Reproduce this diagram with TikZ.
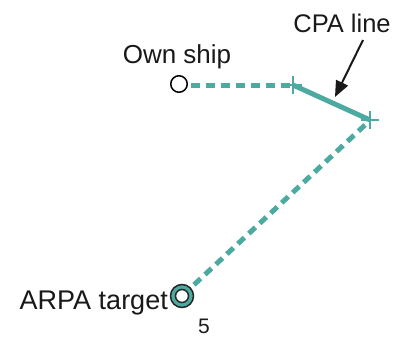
\documentclass[tikz,border=0pt]{standalone}
\usepackage{fontspec}
\setmainfont{Liberation Sans}
\usetikzlibrary{arrows.meta,calc}
\definecolor{teal1}{RGB}{77,170,160}
\begin{document}
\begin{tikzpicture}[x=1pt,y=-1pt,
  lbl/.style={font=\fontsize{26}{28}\selectfont, inner sep=0pt, text=black!90},
  dashline/.style={teal1, line width=5pt, dash pattern=on 9pt off 6pt},
  solidline/.style={teal1, line width=5pt},
  plusmark/.style={teal1, line width=1.5pt},
  ptr/.style={black!90, line width=2pt, -{Triangle[length=16pt,width=13pt]}}]
\useasboundingbox (0,0) rectangle (399,338);
% own ship
\node[circle, draw=black, line width=1.5pt, minimum size=16.5pt, inner sep=0pt, fill=white] (own) at (179,84) {};
\coordinate (p1) at (293,85);
\coordinate (p2) at (370,120);
\node[circle, draw=black!85, line width=1.5pt, fill=teal1, minimum size=23pt, inner sep=0pt] (tgt) at (182,296) {};
\node[circle, draw=black!85, line width=1.5pt, fill=white, minimum size=13pt, inner sep=0pt] at (tgt) {};
% lines
\draw[dashline] (own.east) ++(3,1) -- (p1);
\draw[solidline] (p1) -- (p2);
\draw[dashline] (p2) ++(-5,5) -- ($(tgt)!12pt!(p2)$);
% plus marks
\draw[plusmark] (p1) ++(-9,0) -- ++(18,0) (p1) ++(0,-9) -- ++(0,18);
\draw[plusmark] (p2) ++(-9,0) -- ++(18,0) (p2) ++(0,-9) -- ++(0,18);
% labels
\node[lbl, anchor=base] (ownlbl) at (177,63) {Own ship};
\node[lbl, font=\fontsize{25.5}{28}\selectfont, anchor=base] (cpalbl) at (342,32) {CPA line};
\node[lbl, font=\fontsize{27}{29}\selectfont, anchor=base east] (tgtlbl) at (168,309) {ARPA target};
\node[font=\fontsize{21}{23}\selectfont, inner sep=0pt, anchor=base, text=black!90] (five) at (204,333) {5};
\coordinate (tip) at (335,97);
\coordinate (tail) at (363,40);
\draw[ptr] (tail) -- (tip);
\end{tikzpicture}
\end{document}
